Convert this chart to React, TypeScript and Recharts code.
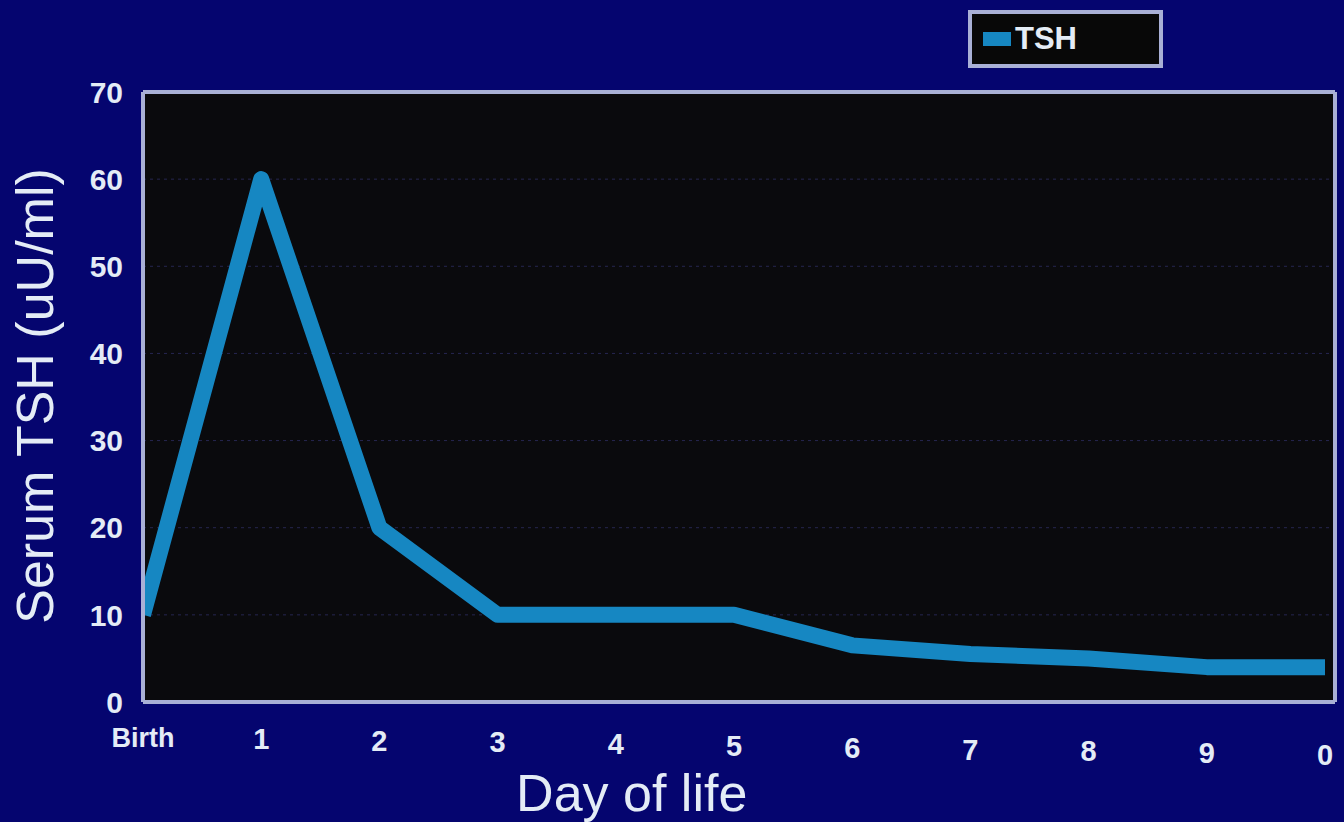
import React from "react";
import { LineChart, Line, XAxis, YAxis, CartesianGrid, Legend } from "recharts";

const dayLabels = ["Birth", "1", "2", "3", "4", "5", "6", "7", "8", "9", "0"];
const tshValues = [10, 60, 20, 10, 10, 10, 6.5, 5.5, 5, 4, 4];
const yTicks = [0, 10, 20, 30, 40, 50, 60, 70];

const data = dayLabels.map((d, i) => ({ day: d, TSH: tshValues[i] }));

const FONT = "'Liberation Sans', Arial, sans-serif";
const BG = "#05056f";
const PLOT_BG = "#0a0a0d";
const BORDER = "#a9b0d6";
const LINE = "#1687c2";
const TEXT = "#e4ecf6";

const YLabel = (props: any) => {
  const vb = props.viewBox || {};
  const cx = vb.x - 48;
  const cy = vb.y + vb.height / 2 - 1;
  return (
    <text
      x={cx}
      y={cy}
      transform={`rotate(-90, ${cx}, ${cy})`}
      textAnchor="middle"
      dominantBaseline="central"
      fill={TEXT}
      fontFamily={FONT}
      fontSize={52}
    >
      Serum TSH (uU/ml)
    </text>
  );
};

const XLabel = (props: any) => {
  const vb = props.viewBox || {};
  return (
    <text
      x={vb.x + vb.width * 0.41}
      y={vb.y + 109}
      textAnchor="middle"
      fill={TEXT}
      fontFamily={FONT}
      fontSize={52}
    >
      Day of life
    </text>
  );
};

const XTick = (props: any) => {
  const { x, y, payload } = props;
  const idx = payload && typeof payload.index === "number" ? payload.index : 0;
  return (
    <text
      x={x}
      y={y + 37 + idx * 1.8}
      textAnchor="middle"
      fill={TEXT}
      fontFamily={FONT}
      fontSize={idx === 0 ? 27 : 29}
      fontWeight={700}
    >
      {payload.value}
    </text>
  );
};

const LegendBox = (props: any) => {
  const payload = props.payload || [];
  return (
    <div
      style={{
        width: 195,
        height: 58,
        boxSizing: "border-box",
        background: "#080808",
        border: `4px solid ${BORDER}`,
        display: "flex",
        alignItems: "center",
        paddingLeft: 11,
        fontFamily: FONT,
      }}
    >
      {payload.map((p: any) => (
        <span key={p.value} style={{ display: "flex", alignItems: "center" }}>
          <span style={{ display: "inline-block", width: 28, height: 14, background: p.color }} />
          <span style={{ color: TEXT, fontWeight: 700, fontSize: 31, marginLeft: 4 }}>{p.value}</span>
        </span>
      ))}
    </div>
  );
};

export default function App() {
  return (
    <div style={{ width: 1344, height: 822, background: BG, position: "relative", overflow: "hidden" }}>
      <style>{`body{margin:0;background:${BG};}`}</style>
      <LineChart
        width={1344}
        height={822}
        data={data}
        margin={{ top: 91, right: 8, bottom: 50, left: 83 }}
      >
        <CartesianGrid
          vertical={false}
          fill={PLOT_BG}
          fillOpacity={1}
          stroke="#262650"
          strokeDasharray="3 4"
        />
        <Line
          type="linear"
          dataKey="TSH"
          stroke={LINE}
          strokeWidth={16}
          strokeLinejoin="round"
          dot={false}
          activeDot={false}
          isAnimationActive={false}
          legendType="rect"
        />
        <XAxis
          dataKey="day"
          type="category"
          height={70}
          padding={{ left: 0, right: 10 }}
          allowDataOverflow
          axisLine={{ stroke: BORDER, strokeWidth: 4 }}
          tickLine={false}
          interval={0}
          tick={<XTick />}
          label={<XLabel />}
        />
        <XAxis
          xAxisId="top"
          dataKey="day"
          orientation="top"
          height={1}
          padding={{ left: 0, right: 10 }}
          tick={false}
          tickLine={false}
          axisLine={{ stroke: BORDER, strokeWidth: 4 }}
        />
        <YAxis
          domain={[0, 70]}
          ticks={yTicks}
          width={60}
          allowDataOverflow
          axisLine={{ stroke: BORDER, strokeWidth: 4 }}
          tickLine={false}
          tickMargin={14}
          tick={{ fill: TEXT, fontFamily: FONT, fontSize: 30, fontWeight: 700 }}
          label={<YLabel />}
        />
        <YAxis
          yAxisId="right"
          orientation="right"
          domain={[0, 70]}
          width={1}
          tick={false}
          tickLine={false}
          axisLine={{ stroke: BORDER, strokeWidth: 4 }}
        />
        <Legend
          layout="vertical"
          align="center"
          verticalAlign="middle"
          wrapperStyle={{ top: 10, left: 968, width: 195, height: 58 }}
          content={<LegendBox />}
        />
      </LineChart>
    </div>
  );
}
